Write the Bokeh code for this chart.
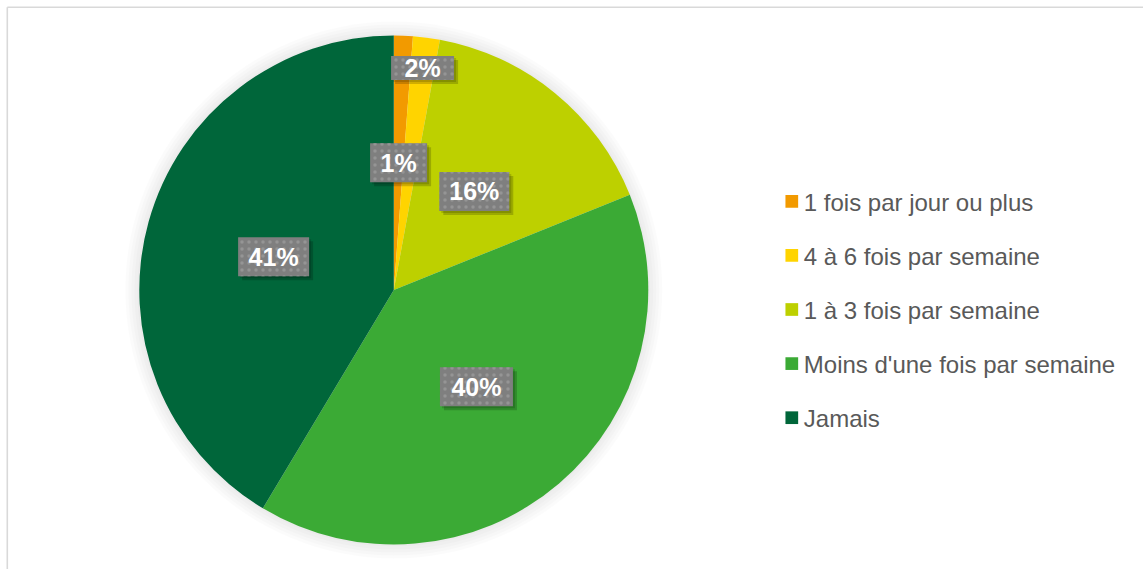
import math
from bokeh.plotting import figure
from bokeh.models import ColumnDataSource, Range1d
from bokeh.core.properties import value
from bokeh.embed import file_html
from bokeh.resources import INLINE

# ---- data ----
categories = ["1 fois par jour ou plus", "4 à  6 fois par semaine", "1 à  3 fois par semaine",
              "Moins d'une fois par semaine", "Jamais"]
shares = [1.2, 1.7, 16.0, 39.7, 41.4]
labels = ["1%", "2%", "16%", "40%", "41%"]
colors = ["#F29A00", "#FFD400", "#BDD000", "#3BAA35", "#00663A"]

# ---- layout ----
W, H = 1143, 569
cx, cy, R = 393.3, 279.5, 254.5
label_r = [0.5, 0.88, 0.5, 0.5, 0.49]
box_w = [57, 63, 70, 73, 71]
box_h = [39, 24, 39, 39, 39]

p = figure(width=W, height=H, x_range=Range1d(0, W), y_range=Range1d(0, H),
           x_axis_type=None, y_axis_type=None, toolbar_location=None,
           output_backend="svg", min_border=0)
p.outline_line_color = None
p.grid.visible = False
p.background_fill_color = "white"
p.border_fill_color = "white"

# chart-area border (top and left visible)
p.segment(x0=[6.8, 6.8], y0=[0, H - 6.8], x1=[6.8, W], y1=[H - 6.8, H - 6.8],
          line_color="#d9d9d9", line_width=1.6)

# soft glow around the pie
for dr in [14, 11, 8, 5, 2]:
    p.circle(x=[cx], y=[cy], radius=R + dr, fill_color="black", fill_alpha=0.016, line_color=None)

# wedges
total = sum(shares)
starts, ends, mids = [], [], []
cum = 0.0
for s in shares:
    a0 = math.pi / 2 - 2 * math.pi * cum / total
    cum += s
    a1 = math.pi / 2 - 2 * math.pi * cum / total
    starts.append(a0)
    ends.append(a1)
    mids.append((a0 + a1) / 2)

src = ColumnDataSource(dict(start=starts, end=ends, color=colors, cat=categories))
p.wedge(x=cx, y=cy, radius=R, start_angle="start", end_angle="end", direction="clock",
        fill_color="color", line_color=None, source=src)

# data labels
lx = [cx + fr * R * math.cos(m) for fr, m in zip(label_r, mids)]
ly = [cy + fr * R * math.sin(m) for fr, m in zip(label_r, mids)]
lsrc = ColumnDataSource(dict(x=lx, y=ly, w=box_w, h=box_h, t=labels,
                             sx=[v + 4 for v in lx], sy=[v - 4 for v in ly],
                             sx2=[v + 2 for v in lx], sy2=[v - 2 for v in ly]))
p.rect(x="sx", y="sy", width="w", height="h", fill_color="black", fill_alpha=0.18,
       line_color=None, source=lsrc)
p.rect(x="sx2", y="sy2", width="w", height="h", fill_color="black", fill_alpha=0.15,
       line_color=None, source=lsrc)
p.rect(x="x", y="y", width="w", height="h", fill_color="#7F7F7F", line_color=None,
       hatch_pattern="dot", hatch_color="#959595", hatch_scale=7, hatch_weight=1.5,
       source=lsrc)
p.text(x="x", y="y", text="t", text_align="center", text_baseline="middle",
       text_font=value("Liberation Sans"), text_font_style="bold", text_font_size="25px",
       text_color="white", source=lsrc)

# legend
leg_x0 = 791.3
row0, step = 368.2, 54.1
ys = [row0 - i * step for i in range(len(categories))]
gsrc = ColumnDataSource(dict(x=[leg_x0] * len(categories), y=ys, color=colors, cat=categories,
                             tx=[leg_x0 + 12] * len(categories), ty=[v - 1 for v in ys]))
p.rect(x="x", y="y", width=12.7, height=12.7, fill_color="color", line_color=None, source=gsrc)
p.text(x="tx", y="ty", text="cat", text_align="left", text_baseline="middle",
       text_font=value("Liberation Sans"), text_font_size="24px", text_color="#595959",
       source=gsrc)

open("out.html", "w").write(file_html(p, INLINE))
